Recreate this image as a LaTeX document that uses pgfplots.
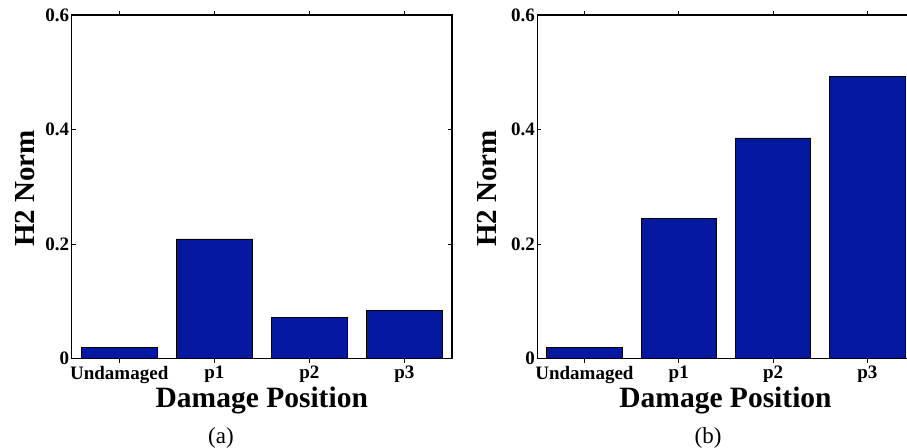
\documentclass[border=0pt]{standalone}
\usepackage{fontspec}
\setmainfont{Liberation Serif}
\usepackage{pgfplots}
\pgfplotsset{compat=1.18}
\definecolor{barblue}{RGB}{5,25,160}
\pgfplotsset{
  myaxis/.style={
    scale only axis,
    anchor=south west,
    ymin=0, ymax=0.6,
    xmin=0.5, xmax=4.5,
    xtick={1,2,3,4},
    xticklabels={Undamaged,p1,p2,p3},
    ytick={0,0.2,0.4,0.6},
    yticklabels={0,0.2,0.4,0.6},
    tick align=inside,
    xtick pos=both, ytick pos=both,
    major tick length=4pt,
    axis line style={line width=1.1pt},
    tick style={line width=0.8pt, black},
    ticklabel style={font=\fontsize{19}{20}\selectfont\bfseries},
    xticklabel style={yshift=0pt},
    yticklabel style={xshift=1pt},
    ybar, bar width=0.8,
  }
}
\begin{document}
\begin{tikzpicture}
\useasboundingbox (0pt,0pt) rectangle (907pt,447pt);
\clip (0pt,0pt) rectangle (907pt,447pt);
\begin{axis}[myaxis, at={(71.7pt,88.3pt)}, width=380.3pt, height=343.7pt]
\addplot[fill=barblue, draw=black, line width=0.6pt] coordinates {(1,0.020) (2,0.209) (3,0.072) (4,0.084)};
\end{axis}
\begin{axis}[myaxis, at={(537.3pt,88.3pt)}, width=377.2pt, height=343.7pt]
\addplot[fill=barblue, draw=black, line width=0.6pt] coordinates {(1,0.020) (2,0.2455) (3,0.3855) (4,0.493)};
\end{axis}
\node[anchor=base, font=\fontsize{29.5}{32}\selectfont\bfseries] at (261.8pt,39pt) {Damage Position};
\node[anchor=base, font=\fontsize{29.5}{32}\selectfont\bfseries] at (725.5pt,39pt) {Damage Position};
\node[rotate=90, font=\fontsize{29}{32}\selectfont\bfseries] at (25pt,258.5pt) {H2 Norm};
\node[rotate=90, font=\fontsize{29}{32}\selectfont\bfseries] at (487.5pt,258.5pt) {H2 Norm};
\node[anchor=base, font=\fontsize{23}{26}\selectfont] at (221pt,4pt) {(a)};
\node[anchor=base, font=\fontsize{23}{26}\selectfont] at (708pt,4pt) {(b)};
\end{tikzpicture}
\end{document}
